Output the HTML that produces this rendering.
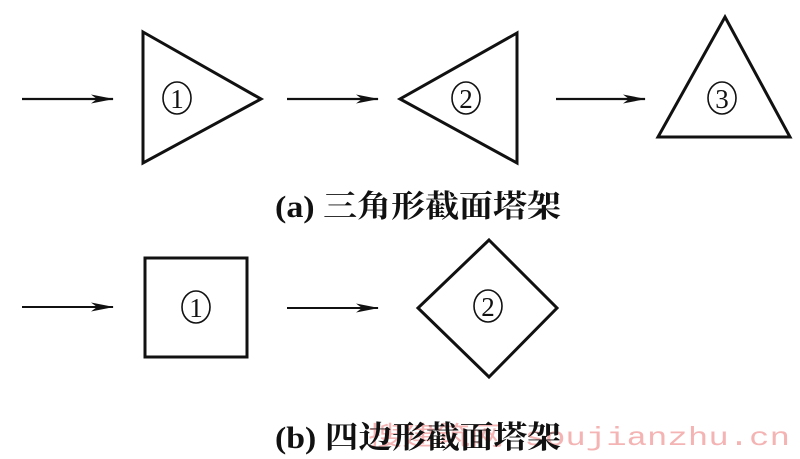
<!DOCTYPE html>
<html><head><meta charset="utf-8"><style>
html,body{margin:0;padding:0;background:#fff;}
svg{display:block;}
</style></head><body>
<svg width="800" height="459" viewBox="0 0 800 459" xmlns="http://www.w3.org/2000/svg">
<defs>
<marker id="ah" markerWidth="24" markerHeight="12" refX="22" refY="6" orient="auto" markerUnits="userSpaceOnUse">
<path d="M0,1.5 L23,6 L0,10.5 L6,6 Z" fill="#111"/>
</marker>
</defs>
<g stroke="#111" stroke-width="3" fill="none" stroke-linejoin="miter">
<line x1="22" y1="99" x2="113" y2="99" stroke-width="2.2" marker-end="url(#ah)"/>
<line x1="287" y1="99" x2="378" y2="99" stroke-width="2.2" marker-end="url(#ah)"/>
<line x1="556" y1="99" x2="645" y2="99" stroke-width="2.2" marker-end="url(#ah)"/>
<polygon points="143,32 261,99 143,163"/>
<polygon points="517,33 400,99 517,163"/>
<polygon points="725,17 790,137 658,137"/>
<line x1="22" y1="307" x2="113" y2="307" stroke-width="2" marker-end="url(#ah)"/>
<line x1="287" y1="308" x2="378" y2="308" stroke-width="2" marker-end="url(#ah)"/>
<rect x="145" y="258" width="102" height="99"/>
<polygon points="489,240 557,308 489,377 418,308"/>
<g stroke-width="1.6">
<ellipse cx="177" cy="98" rx="14" ry="16"/>
<ellipse cx="466" cy="98" rx="14" ry="16"/>
<ellipse cx="722" cy="98" rx="14" ry="16"/>
<ellipse cx="196" cy="307" rx="14" ry="16"/>
<ellipse cx="488" cy="306" rx="14" ry="16"/>
</g>
</g>
<g font-family="'Liberation Serif',serif" fill="#111" text-anchor="middle" font-size="27">
<text x="177" y="108">1</text>
<text x="466" y="108">2</text>
<text x="722" y="108">3</text>
<text x="196" y="317">1</text>
<text x="488" y="316">2</text>
</g>
<text x="368" y="445" font-family="'Liberation Mono','WenQuanYi Zen Hei',monospace" font-size="26" fill="#f4b4b4" textLength="422" lengthAdjust="spacingAndGlyphs">搜建筑网 soujianzhu.cn</text>
<g font-family="'Liberation Serif','Noto Serif CJK SC',serif" fill="#111" font-size="31" font-weight="bold">
<text x="275" y="217" textLength="286" lengthAdjust="spacingAndGlyphs">(a) 三角形截面塔架</text>
<text x="275" y="448" textLength="286" lengthAdjust="spacingAndGlyphs">(b) 四边形截面塔架</text>
</g>
</svg>
</body></html>
